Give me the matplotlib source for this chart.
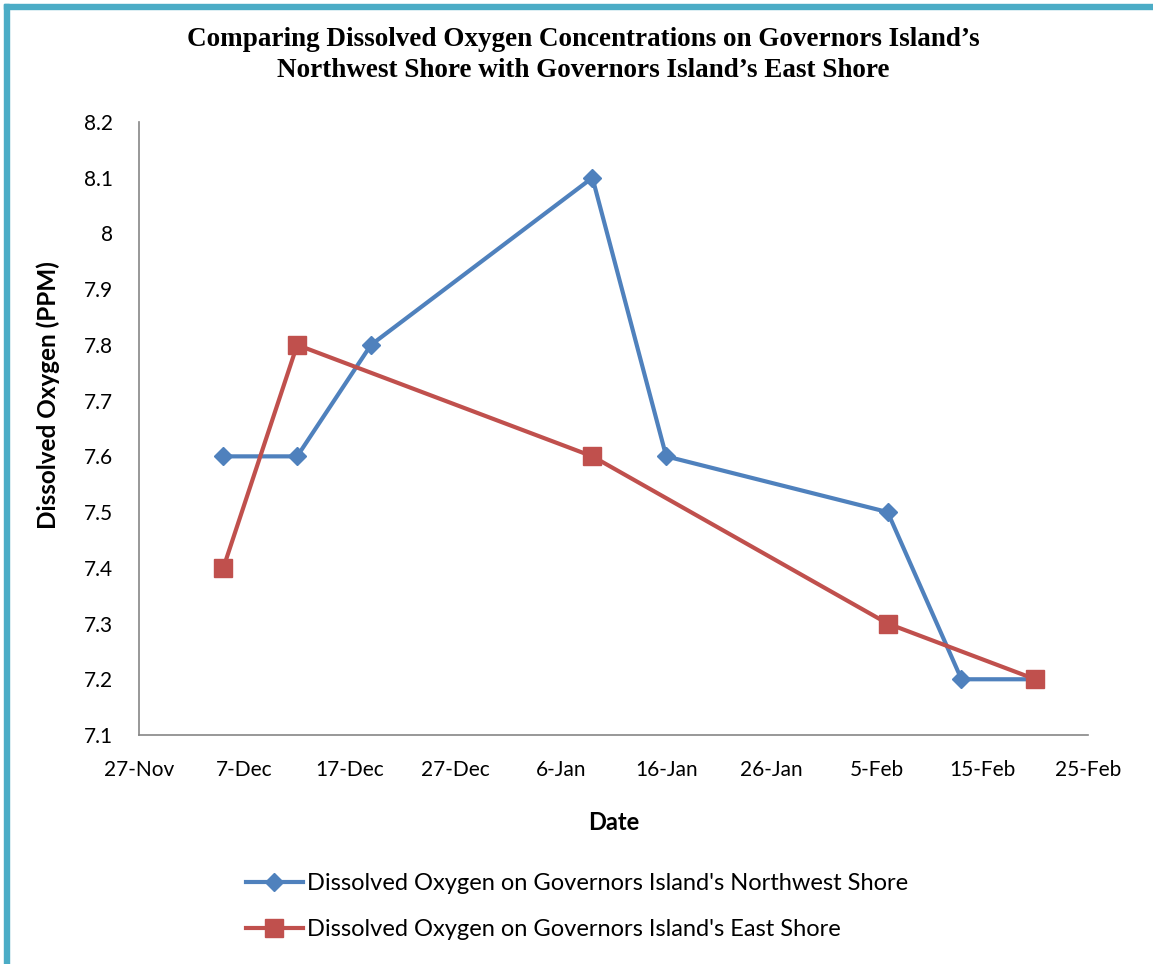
import matplotlib
matplotlib.use("Agg")
import matplotlib.pyplot as plt
import matplotlib.patches as patches
import datetime as dt

# Data
nw_dates = ["2010-12-05", "2010-12-12", "2010-12-19", "2011-01-09", "2011-01-16",
            "2011-02-06", "2011-02-13", "2011-02-20"]
nw_values = [7.6, 7.6, 7.8, 8.1, 7.6, 7.5, 7.2, 7.2]
east_dates = ["2010-12-05", "2010-12-12", "2011-01-09", "2011-02-06", "2011-02-20"]
east_values = [7.4, 7.8, 7.6, 7.3, 7.2]
yticks = [7.1, 7.2, 7.3, 7.4, 7.5, 7.6, 7.7, 7.8, 7.9, 8.0, 8.1, 8.2]
ytick_labels = ["7.1", "7.2", "7.3", "7.4", "7.5", "7.6", "7.7", "7.8", "7.9", "8", "8.1", "8.2"]
title = "Comparing Dissolved Oxygen Concentrations on Governors Island\u2019s\nNorthwest Shore with Governors Island\u2019s East Shore"
nw_label = "Dissolved Oxygen on Governors Island's Northwest Shore"
east_label = "Dissolved Oxygen on Governors Island's East Shore"

def parse(ds):
    return [dt.datetime.strptime(d, "%Y-%m-%d") for d in ds]

plt.rcParams['font.family'] = ['Lato', 'DejaVu Sans']

fig = plt.figure(figsize=(11.53, 9.64), dpi=100)
W, H = 1153, 964
ax = fig.add_axes([139 / W, 1 - 735 / H, (1088 - 139) / W, (735 - 122) / H])

blue = "#4F81BD"
red = "#C0504D"
l1, = ax.plot(parse(nw_dates), nw_values, color=blue, lw=3, marker="D", markersize=9,
              label=nw_label, clip_on=False)
l2, = ax.plot(parse(east_dates), east_values, color=red, lw=3, marker="s", markersize=13,
              label=east_label, clip_on=False)

ax.set_ylim(7.1, 8.2)
ax.set_yticks(yticks)
ax.set_yticklabels(ytick_labels)
start = dt.datetime(2010, 11, 27)
end = dt.datetime(2011, 2, 25)
ax.set_xlim(start, end)
xt = [start + dt.timedelta(days=10 * i) for i in range(10)]
ax.set_xticks(xt)
ax.set_xticklabels([f"{d.day}-{d.strftime('%b')}" for d in xt])

for s in ["top", "right"]:
    ax.spines[s].set_visible(False)
for s in ["left", "bottom"]:
    ax.spines[s].set_color("#868686")
    ax.spines[s].set_linewidth(1.2)
ax.tick_params(axis="both", length=0, labelsize=15, colors="#000000")
ax.tick_params(axis="y", pad=19)
ax.tick_params(axis="x", pad=18)

ax.set_ylabel("Dissolved Oxygen (PPM)", fontsize=17.5, fontweight="bold")
ax.yaxis.set_label_coords(48 / W, 1 - 395 / H, transform=fig.transFigure)
ax.set_xlabel("Date", fontsize=17, fontweight="bold")
ax.xaxis.set_label_coords(614 / W, 1 - 822 / H, transform=fig.transFigure)
ax.xaxis.label.set_va("center")
ax.yaxis.label.set_va("center")

fig.text(583 / W, 1 - 55 / H, title, ha="center", va="center", fontsize=19.5,
         fontweight="bold", family=["Liberation Serif", "DejaVu Serif"], linespacing=1.28)

leg = fig.legend(handles=[l1, l2], loc="center left", bbox_to_anchor=(246 / W, 1 - 906.5 / H),
                 frameon=False, fontsize=17, handlelength=2.4, handletextpad=0.2,
                 labelspacing=1.05, borderaxespad=0, borderpad=0)

# teal border (top and left)
fig.patches.append(patches.Rectangle((4 / W, 0), 5 / W, 1 - 4 / H, transform=fig.transFigure,
                                     color="#4BACC6", zorder=10))
fig.patches.append(patches.Rectangle((4 / W, 1 - 9 / H), 1 - 4 / W, 5 / H, transform=fig.transFigure,
                                     color="#4BACC6", zorder=10))

fig.savefig("out.png", dpi=100)
